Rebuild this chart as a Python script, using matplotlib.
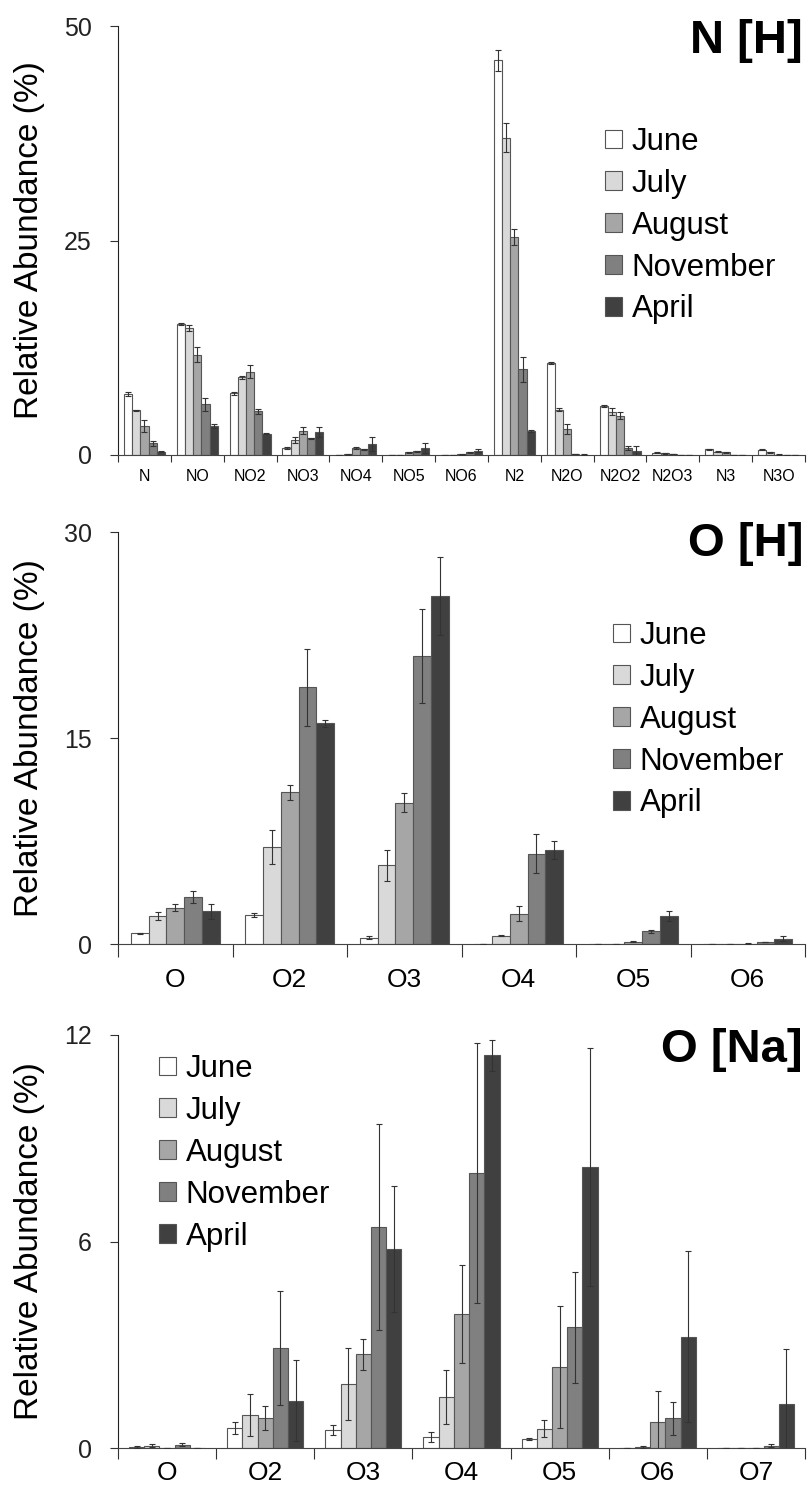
import numpy as np
import matplotlib
matplotlib.use('Agg')
import matplotlib.pyplot as plt
from matplotlib.patches import Patch

plt.rcParams['font.family'] = ['Liberation Sans', 'DejaVu Sans']

################################################################################
months = ['June', 'July', 'August', 'November', 'April']
colors = ['#ffffff', '#d9d9d9', '#a6a6a6', '#808080', '#404040']

# N [H] panel #
n_cats = ['N', 'NO', 'NO2', 'NO3', 'NO4', 'NO5', 'NO6', 'N2', 'N2O', 'N2O2', 'N2O3', 'N3', 'N3O']
n_june = [7.1, 15.3, 7.2, 0.8, 0.0, 0.0, 0.0, 46.0, 10.7, 5.7, 0.25, 0.65, 0.6]
n_july = [5.2, 14.8, 9.05, 1.75, 0.1, 0.0, 0.0, 37.0, 5.3, 5.05, 0.2, 0.4, 0.3]
n_aug = [3.4, 11.7, 9.7, 2.85, 0.8, 0.3, 0.1, 25.4, 3.0, 4.6, 0.1, 0.3, 0.05]
n_nov = [1.35, 5.9, 5.1, 1.95, 0.65, 0.45, 0.3, 10.0, 0.1, 0.8, 0.0, 0.0, 0.0]
n_apr = [0.4, 3.4, 2.5, 2.7, 1.3, 0.8, 0.5, 2.8, 0.05, 0.45, 0.0, 0.0, 0.0]
n_june_err = [0.2, 0.1, 0.2, 0.1, 0.0, 0.0, 0.0, 1.2, 0.15, 0.1, 0.05, 0.05, 0.05]
n_july_err = [0.05, 0.3, 0.2, 0.3, 0.05, 0.0, 0.0, 1.65, 0.2, 0.4, 0.05, 0.05, 0.05]
n_aug_err = [0.7, 0.9, 0.75, 0.4, 0.15, 0.05, 0.05, 0.9, 0.6, 0.4, 0.02, 0.02, 0.02]
n_nov_err = [0.25, 0.8, 0.3, 0.05, 0.05, 0.05, 0.05, 1.45, 0.02, 0.2, 0.0, 0.0, 0.0]
n_apr_err = [0.1, 0.2, 0.05, 0.6, 0.8, 0.6, 0.2, 0.1, 0.02, 0.6, 0.0, 0.0, 0.0]

# O [H] panel #
oh_cats = ['O', 'O2', 'O3', 'O4', 'O5', 'O6']
oh_june = [0.78, 2.09, 0.46, 0.0, 0.0, 0.0]
oh_july = [2.04, 7.06, 5.72, 0.6, 0.0, 0.0]
oh_aug = [2.64, 11.04, 10.28, 2.2, 0.17, 0.03]
oh_nov = [3.44, 18.68, 20.96, 6.57, 0.92, 0.15]
oh_apr = [2.38, 16.06, 25.32, 6.84, 2.06, 0.4]
oh_june_err = [0.05, 0.15, 0.1, 0.0, 0.0, 0.0]
oh_july_err = [0.3, 1.24, 1.1, 0.05, 0.0, 0.0]
oh_aug_err = [0.25, 0.53, 0.68, 0.55, 0.03, 0.02]
oh_nov_err = [0.45, 2.8, 3.4, 1.42, 0.1, 0.03]
oh_apr_err = [0.55, 0.25, 2.85, 0.68, 0.35, 0.15]

# O [Na] panel #
ona_cats = ['O', 'O2', 'O3', 'O4', 'O5', 'O6', 'O7']
ona_june = [0.03, 0.58, 0.53, 0.32, 0.27, 0.0, 0.0]
ona_july = [0.07, 0.96, 1.86, 1.49, 0.56, 0.03, 0.0]
ona_aug = [0.0, 0.87, 2.72, 3.9, 2.36, 0.75, 0.0]
ona_nov = [0.1, 2.9, 6.42, 8.0, 3.51, 0.87, 0.07]
ona_apr = [0.0, 1.38, 5.78, 11.41, 8.16, 3.23, 1.28]
ona_june_err = [0.03, 0.17, 0.15, 0.15, 0.03, 0.0, 0.0]
ona_july_err = [0.05, 0.6, 1.06, 0.78, 0.25, 0.03, 0.0]
ona_aug_err = [0.0, 0.35, 0.45, 1.42, 1.77, 0.9, 0.0]
ona_nov_err = [0.05, 1.65, 2.98, 3.78, 1.61, 0.48, 0.05]
ona_apr_err = [0.0, 1.18, 1.83, 0.45, 3.45, 2.48, 1.6]

################################################################################
W, H = 811, 1492

def fx(px): return px / W
def fy(py): return 1 - py / H

def panel(rect, cats, series, errors, ymax, label_size, label_pad, title, title_base, leg_xy, tick_len):
    left, top, right, bottom = rect
    ax = fig.add_axes([fx(left), fy(bottom), fx(right) - fx(left), fy(top) - fy(bottom)])
    n = len(cats)
    x = np.arange(n) + 0.5
    width = 0.155
    for i, (vals, errs) in enumerate(zip(series, errors)):
        pos = x + (i - 2) * width
        ax.bar(pos, vals, width, color=colors[i], edgecolor='#555555', linewidth=0.8, zorder=2)
        ax.errorbar(pos, vals, yerr=errs, fmt='none', ecolor='#333333', elinewidth=0.8,
                    capsize=2.5, capthick=0.8, zorder=3)
    # Axes #
    ax.set_xlim(0, n)
    ax.set_ylim(0, ymax)
    ax.set_yticks([0, ymax / 2, ymax])
    ax.set_yticklabels(['%g' % v for v in [0, ymax / 2, ymax]], fontsize=18, color='#222222')
    ax.set_xticks(np.arange(n + 1))
    ax.set_xticklabels([])
    ax.set_xticks(x, minor=True)
    ax.set_xticklabels(cats, minor=True, fontsize=label_size)
    ax.tick_params(axis='x', which='major', length=tick_len, direction='out', color='#333333')
    ax.tick_params(axis='x', which='minor', length=0, pad=label_pad)
    ax.tick_params(axis='y', length=6, direction='out', pad=13, color='#333333')
    for s in ('top', 'right'): ax.spines[s].set_visible(False)
    ax.spines['left'].set_color('#222222')
    ax.spines['bottom'].set_color('#444444')
    ax.set_ylabel('Relative Abundance (%)', fontsize=24)
    ax.yaxis.set_label_coords(fx(45), 0.5 * (fy(top) + fy(bottom)), transform=fig.transFigure)
    # Title #
    fig.text(fx(803), fy(title_base), title, fontsize=34, fontweight='bold', ha='right', va='baseline')
    # Legend #
    handles = [Patch(facecolor=c, edgecolor='#555555', linewidth=0.8) for c in colors]
    ax.legend(handles, months, loc='upper left', bbox_to_anchor=(fx(leg_xy[0]), fy(leg_xy[1])),
              bbox_transform=fig.transFigure, frameon=False, fontsize=22.5, borderpad=0,
              borderaxespad=0, handlelength=0.55, handleheight=0.55, handletextpad=0.3,
              labelspacing=0.38)
    return ax

fig = plt.figure(figsize=(W / 100, H / 100), dpi=100)

panel((118, 26, 805, 455), n_cats,
      [n_june, n_july, n_aug, n_nov, n_apr],
      [n_june_err, n_july_err, n_aug_err, n_nov_err, n_apr_err],
      50, 11.5, 10, 'N [H]', 53, (605, 127), 5)

panel((118, 532, 805, 944), oh_cats,
      [oh_june, oh_july, oh_aug, oh_nov, oh_apr],
      [oh_june_err, oh_july_err, oh_aug_err, oh_nov_err, oh_apr_err],
      30, 19, 17, 'O [H]', 556, (613, 621), 9)

panel((118, 1035, 805, 1448), ona_cats,
      [ona_june, ona_july, ona_aug, ona_nov, ona_apr],
      [ona_june_err, ona_july_err, ona_aug_err, ona_nov_err, ona_apr_err],
      12, 19, 9, 'O [Na]', 1062, (159, 1054), 8)

fig.savefig('out.png', dpi=100)
